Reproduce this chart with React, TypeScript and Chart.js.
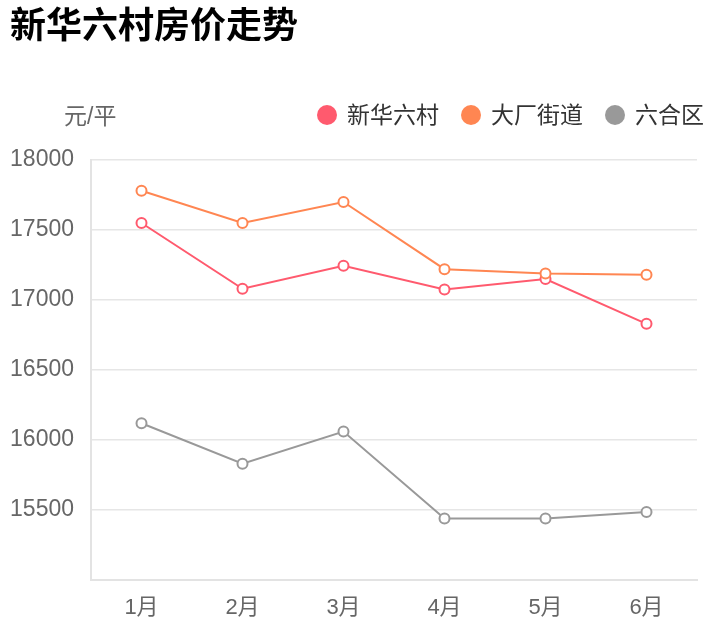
import React, { useEffect, useRef } from "react";
import { Chart, registerables } from "chart.js";

Chart.register(...registerables);

const titleText = "新华六村房价走势";
const unitText = "元/平";
const months = ["1月", "2月", "3月", "4月", "5月", "6月"];
const seriesNames = ["新华六村", "大厂街道", "六合区"];
const xinhuaValues = [17550, 17080, 17245, 17075, 17150, 16830];
const dachangValues = [17780, 17550, 17700, 17220, 17190, 17180];
const luheValues = [16120, 15830, 16060, 15440, 15440, 15485];
const seriesColors = ["#ff5a6e", "#ff8652", "#999999"];
const yMin = 15000;
const yMax = 18000;
const yStep = 500;

const FONT = '"Liberation Sans", Arial, "Noto Sans CJK SC", sans-serif';

export default function App() {
  const canvasRef = useRef<HTMLCanvasElement | null>(null);

  useEffect(() => {
    const canvas = canvasRef.current;
    if (!canvas) return;
    const allValues = [xinhuaValues, dachangValues, luheValues];
    const chart = new Chart(canvas, {
      type: "line",
      data: {
        labels: months,
        datasets: seriesNames.map((name, i) => ({
          label: name,
          data: allValues[i],
          borderColor: seriesColors[i],
          backgroundColor: seriesColors[i],
          pointBackgroundColor: "#ffffff",
          pointBorderColor: seriesColors[i],
          pointRadius: 5,
          pointBorderWidth: 2,
          borderWidth: 2,
          tension: 0,
          fill: false,
          order: 3 - i,
        })),
      },
      options: {
        responsive: false,
        animation: false,
        events: [],
        layout: { padding: { top: 160, right: 21, left: 0, bottom: 0 } },
        plugins: {
          legend: { display: false },
          title: { display: false },
          tooltip: { enabled: false },
        },
        scales: {
          x: {
            type: "category",
            offset: true,
            afterFit: (scale: any) => {
              scale.height = 60;
            },
            grid: { display: true, color: "rgba(0,0,0,0)", drawTicks: false },
            border: { display: true, color: "#e3e3e3", width: 2 },
            ticks: {
              color: "#666666",
              font: { family: FONT, size: 22 },
              padding: 15,
              maxRotation: 0,
            },
          },
          y: {
            min: yMin,
            max: yMax,
            afterFit: (scale: any) => {
              scale.width = 91;
            },
            grid: { color: "#e6e6e6", lineWidth: 1.5, drawTicks: false },
            border: { display: true, color: "#e3e3e3", width: 2 },
            ticks: {
              stepSize: yStep,
              color: "#666666",
              font: { family: FONT, size: 23 },
              padding: 17,
              callback: (v: any) => (Number(v) === yMin ? "" : String(v)),
            },
          },
        },
      },
    });
    return () => chart.destroy();
  }, []);

  return (
    <div style={{ position: "fixed", left: 0, top: 0, width: 718, height: 640, background: "#fff", fontFamily: FONT }}>
      <canvas ref={canvasRef} width={718} height={640} style={{ position: "absolute", left: 0, top: 0 }} />
      <div
        style={{
          position: "absolute",
          left: 10,
          top: 8,
          fontSize: 36,
          lineHeight: "36px",
          fontWeight: "bold",
          color: "#000",
          whiteSpace: "nowrap",
        }}
      >
        {titleText}
      </div>
      <div
        style={{
          position: "absolute",
          left: 64,
          top: 104,
          fontSize: 23,
          lineHeight: "24px",
          color: "#666666",
          whiteSpace: "nowrap",
        }}
      >
        {unitText}
      </div>
      <div
        style={{
          position: "absolute",
          right: 14,
          top: 103,
          height: 24,
          display: "flex",
          alignItems: "center",
          whiteSpace: "nowrap",
        }}
      >
        {seriesNames.map((name, i) => (
          <div key={name} style={{ display: "flex", alignItems: "center", marginLeft: i === 0 ? 0 : 22 }}>
            <span
              style={{
                display: "inline-block",
                width: 20,
                height: 20,
                borderRadius: 10,
                background: seriesColors[i],
                marginRight: 10,
              }}
            />
            <span style={{ fontSize: 23, lineHeight: "24px", color: "#333333" }}>{name}</span>
          </div>
        ))}
      </div>
    </div>
  );
}
